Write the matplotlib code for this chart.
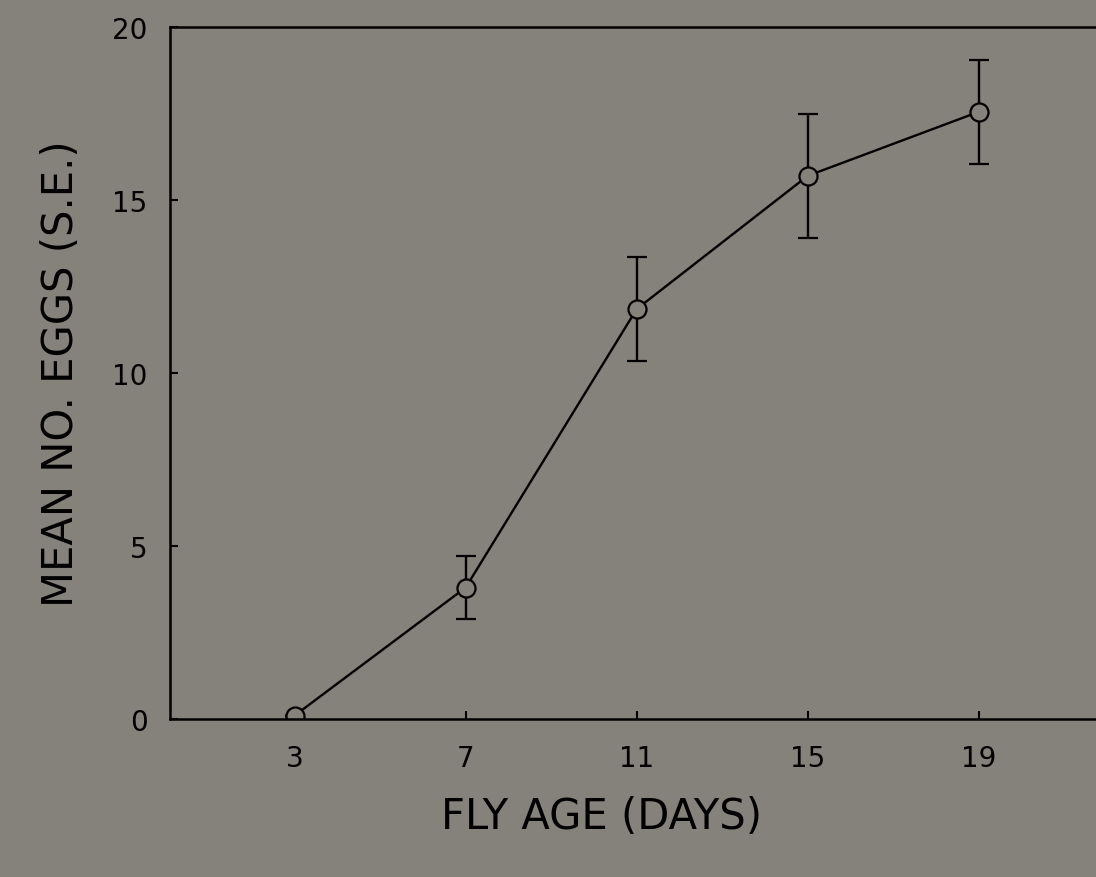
import matplotlib.pyplot as plt

# egg counts by fly age
age = [3, 7, 11, 15, 19]
mean_eggs = [0.1, 3.8, 11.85, 15.7, 17.55]
se_eggs = [0.0, 0.9, 1.5, 1.8, 1.5]
xticks = [3, 7, 11, 15, 19]
yticks = [0, 5, 10, 15, 20]

bg = '#85817b'
plt.rcParams['font.family'] = ['DejaVu Sans']

fig = plt.figure(figsize=(10.96, 8.78), dpi=100, facecolor=bg)
ax = fig.add_axes([0.155, 0.18, 0.894, 0.788], facecolor=bg)

ax.errorbar(age, mean_eggs, yerr=se_eggs, color='black', lw=1.7,
            marker='o', ms=13, mfc=bg, mec='black', mew=1.6,
            capsize=7, capthick=1.7, elinewidth=1.7)

ax.set_xlim(0.08, 23)
ax.set_ylim(0, 20)
ax.set_xticks(xticks)
ax.set_yticks(yticks)
ax.tick_params(direction='in', length=6, width=1.5, labelsize=20, pad=16)
ax.tick_params(axis='x', pad=18)

for side in ['left', 'bottom', 'top']:
    ax.spines[side].set_linewidth(1.8)
ax.spines['right'].set_visible(False)

ax.set_xlabel('FLY AGE (DAYS)', fontsize=30)
ax.xaxis.set_label_coords(0.44, -0.11)
ax.set_ylabel('MEAN NO. EGGS (S.E.)', fontsize=30)
ax.yaxis.set_label_coords(-0.09, 0.5)

fig.savefig('out.png', dpi=100, facecolor=bg)
